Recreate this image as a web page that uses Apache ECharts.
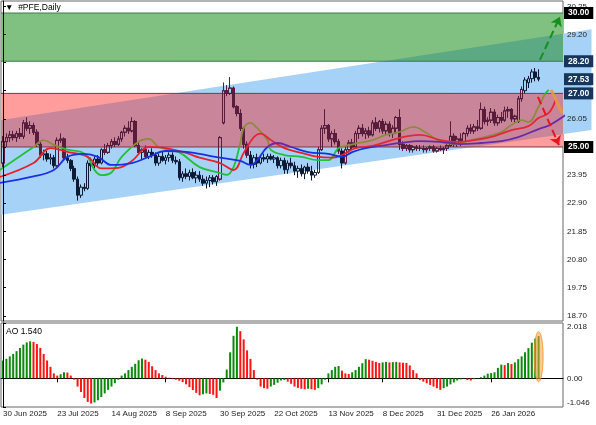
<!DOCTYPE html>
<html><head><meta charset="utf-8">
<script src="https://cdn.jsdelivr.net/npm/echarts@6/dist/echarts.min.js"></script>
<style>html,body{margin:0;padding:0;background:#fff}#c{width:596px;height:425px}</style>
</head><body><div id="c"></div>
<script>
// ---------- DATA ----------
const symbolTitle = '#PFE,Daily';
const tickBars = [0,16,32,48,64,80,96,112,128,144];
const tickLabels = ['30 Jun 2025','23 Jul 2025','14 Aug 2025','8 Sep 2025','30 Sep 2025','22 Oct 2025','13 Nov 2025','8 Dec 2025','31 Dec 2025','26 Jan 2026'];
const priceTicks = [18.70,19.75,20.80,21.85,22.90,23.95,25.00,26.05,27.10,28.15,29.20,30.25];
const aoTicks = [-1.046,0,2.018];

const candleOpen = [24.4,25.2,25.35,25.45,25.35,25.5,25.4,25.9,25.7,25.8,25.55,25.1,24.7,24.75,24.55,24.6,24.3,25.25,25.3,24.6,
24.5,24.2,23.8,23.2,23.5,23.45,24.4,24.3,24.55,24.4,24.9,24.8,25.05,25.2,25.1,25.3,25.55,25.7,25.6,25.95,
25.05,24.8,24.9,24.65,24.8,24.7,24.4,24.65,24.5,24.6,24.7,24.5,24.45,23.85,24.0,23.9,24.05,23.85,23.95,23.8,
23.65,23.75,23.85,23.7,23.8,25.9,27.1,27.0,27.2,26.5,26.25,25.7,25.1,24.7,24.35,24.6,24.4,24.6,24.55,24.65,
24.55,24.6,24.3,24.5,24.15,24.4,24.3,24.1,24.2,24.0,24.25,24.1,23.95,24.05,24.9,25.7,25.8,25.3,25.5,25.2,
24.85,24.4,24.9,25.15,25.0,25.5,25.7,25.5,25.6,25.45,25.9,25.7,25.95,25.6,25.85,25.5,25.7,26.1,25.1,24.95,
25.05,24.9,25.0,24.95,24.95,24.9,24.95,25.0,24.85,24.95,24.9,24.95,25.05,25.4,25.1,25.3,25.2,25.5,25.7,25.6,
25.75,25.7,26.4,25.95,26.0,26.3,25.9,26.1,26.0,26.35,26.4,26.05,25.95,26.8,27.1,27.4,27.55,27.8,27.6];
const candleHigh = [25.4,25.5,25.6,25.6,25.6,25.7,26.0,26.1,25.95,25.9,25.65,25.2,24.9,24.85,24.75,24.7,25.35,25.5,25.35,24.75,
24.55,24.3,23.9,23.6,23.65,24.5,24.6,24.65,24.7,24.95,25.1,25.15,25.3,25.35,25.4,25.6,25.8,25.95,26.1,26.0,
25.2,24.95,25.05,24.9,24.95,24.8,24.75,24.85,24.7,24.8,24.8,24.65,24.55,24.1,24.2,24.15,24.2,24.1,24.1,23.95,
23.9,23.95,23.95,23.95,25.4,27.4,27.3,27.6,27.25,26.55,26.4,25.75,25.2,24.85,24.7,24.75,24.7,24.75,24.75,24.75,
24.7,24.65,24.6,24.6,24.5,24.6,24.45,24.3,24.35,24.3,24.4,24.3,24.15,25.0,25.8,26.4,25.85,25.6,25.65,25.3,
24.95,25.0,25.25,25.3,25.6,25.8,25.85,25.7,25.75,26.0,26.1,26.0,26.05,25.95,25.95,25.8,26.15,26.4,25.2,25.1,
25.1,25.05,25.07,25.07,25.05,25.0,25.05,25.07,25.0,25.05,25.0,25.1,25.95,25.5,25.4,25.5,25.55,25.8,25.85,25.85,
26.0,26.65,26.5,26.1,26.45,26.4,26.2,26.3,26.5,26.5,26.45,26.2,26.9,27.25,27.6,27.65,27.9,27.95,27.9];
const candleLow = [24.2,25.0,25.2,25.25,25.2,25.3,25.3,25.6,25.5,25.45,25.0,24.6,24.5,24.45,24.35,24.2,24.25,25.15,24.5,24.4,
24.1,23.7,23.0,23.1,23.35,23.4,24.1,24.2,24.3,24.35,24.7,24.75,24.95,25.0,25.05,25.2,25.4,25.5,25.55,25.0,
24.7,24.55,24.6,24.55,24.6,24.3,24.3,24.45,24.35,24.45,24.4,24.35,23.75,23.7,23.8,23.75,23.8,23.65,23.7,23.55,
23.45,23.5,23.6,23.55,23.75,25.85,26.9,26.95,26.45,26.15,25.6,24.95,24.6,24.2,24.2,24.25,24.35,24.45,24.4,24.5,
24.4,24.2,24.2,24.0,24.0,24.2,23.95,23.85,23.9,23.8,24.0,23.75,23.85,24.0,24.85,25.5,25.2,25.0,25.1,24.75,
24.2,24.35,24.8,24.9,24.95,25.3,25.4,25.3,25.35,25.4,25.6,25.55,25.5,25.45,25.4,25.35,25.5,24.9,24.85,24.85,
24.8,24.8,24.85,24.85,24.8,24.8,24.85,24.8,24.8,24.85,24.75,24.85,25.0,25.0,25.0,25.05,25.15,25.4,25.5,25.5,
25.6,25.65,25.85,25.8,25.9,25.8,25.8,25.9,25.95,26.1,25.95,25.9,25.9,26.7,27.0,27.2,27.4,27.45,27.45];
const candleClose = [25.2,25.35,25.45,25.35,25.5,25.4,25.9,25.7,25.8,25.55,25.1,24.7,24.75,24.55,24.6,24.3,25.25,25.3,24.6,24.5,
24.2,23.8,23.2,23.5,23.45,24.4,24.3,24.55,24.4,24.9,24.8,25.05,25.2,25.1,25.3,25.55,25.7,25.6,25.95,25.05,
24.8,24.9,24.65,24.8,24.7,24.4,24.65,24.5,24.6,24.7,24.5,24.45,23.85,24.0,23.9,24.05,23.85,23.95,23.8,23.65,
23.75,23.85,23.7,23.9,25.35,27.1,27.0,27.2,26.5,26.25,25.7,25.1,24.7,24.35,24.6,24.4,24.6,24.55,24.65,24.55,
24.6,24.3,24.5,24.15,24.4,24.3,24.1,24.2,24.0,24.25,24.1,23.95,24.05,24.9,25.7,25.8,25.3,25.5,25.2,24.85,
24.4,24.9,25.15,25.0,25.5,25.7,25.5,25.6,25.45,25.9,25.7,25.95,25.6,25.85,25.5,25.7,26.1,25.1,24.95,25.05,
24.9,25.0,24.95,24.95,24.9,24.95,25.0,24.85,24.95,24.9,24.95,25.05,25.4,25.1,25.3,25.2,25.5,25.7,25.6,25.75,
25.7,26.4,25.95,26.0,26.3,25.9,26.1,26.0,26.35,26.4,26.05,26.15,26.8,27.15,27.5,27.55,27.8,27.6,27.53];

// Alligator lines: [bar, price]
const lipsLine = [[-1,24.14],[9,25.0],[12,25.26],[15,25.08],[19,24.9],[23,24.82],[25,24.63],[27,24.14],[29,23.95],[32,24.05],[35,24.63],[40,25.2],[43,25.3],[46,25.0],[52,24.8],[58,24.25],[64,24.03],[66,23.96],[68,24.25],[70,25.15],[71,25.7],[73,25.9],[75,25.7],[78,25.26],[79,24.89],[83,24.7],[88,24.63],[93,24.51],[96,24.51],[99,24.96],[102,25.07],[105,25.15],[109,25.26],[113,25.45],[117,25.56],[121,25.75],[125,25.52],[130,25.15],[134,25.11],[138,25.26],[142,25.37],[147,25.56],[150,25.82],[153,26.0],[155,25.93],[158,26.5],[160,27.0],[161,27.13]];
const teethLine = [[-1,23.88],[9,24.4],[14,24.96],[19,24.82],[25,24.63],[29,24.2],[34,24.22],[38,24.48],[43,25.0],[48,24.96],[54,24.78],[58,24.6],[64,24.4],[68,24.14],[71,24.78],[74,25.37],[76,25.5],[79,25.26],[83,24.96],[88,24.78],[93,24.63],[97,24.6],[100,24.7],[104,24.96],[109,25.04],[117,25.34],[123,25.45],[129,25.26],[134,25.19],[139,25.26],[145,25.41],[150,25.63],[155,25.78],[158,26.08],[161,26.27],[163,26.75]];
const jawLine = [[-1,23.66],[9,23.9],[15,24.14],[19,24.63],[24,24.74],[28,24.63],[32,24.33],[38,24.4],[43,24.63],[48,24.85],[54,24.82],[58,24.74],[64,24.6],[70,24.48],[73,24.33],[75,24.51],[78,25.0],[81,25.15],[85,25.0],[90,24.81],[96,24.74],[100,24.63],[103,24.81],[107,24.96],[113,25.07],[117,25.15],[123,25.22],[129,25.19],[135,25.11],[141,25.15],[147,25.22],[152,25.37],[158,25.67],[161,25.8],[166,26.2]];

const aoValues = [0.65,0.71,0.80,0.89,0.99,1.11,1.23,1.31,1.35,1.33,
1.25,1.11,0.89,0.65,0.42,0.18,0.10,0.15,0.22,0.21,
0.10,-0.05,-0.30,-0.50,-0.72,-0.86,-0.92,-0.88,-0.80,-0.68,
-0.55,-0.42,-0.30,-0.18,-0.05,0.10,0.18,0.30,0.42,0.53,
0.66,0.72,0.68,0.60,0.44,0.30,0.18,0.12,0.06,0.02,
-0.02,-0.05,-0.09,-0.14,-0.22,-0.32,-0.43,-0.53,-0.62,-0.58,
-0.55,-0.57,-0.60,-0.72,-0.45,-0.15,0.32,0.95,1.55,1.88,
1.72,1.42,1.02,0.71,0.30,-0.05,-0.30,-0.36,-0.38,-0.30,
-0.24,-0.16,-0.08,-0.06,-0.12,-0.20,-0.30,-0.35,-0.38,-0.40,
-0.38,-0.40,-0.42,-0.36,-0.22,-0.05,0.18,0.30,0.42,0.45,
0.28,0.18,0.16,0.22,0.30,0.42,0.55,0.70,0.68,0.64,
0.60,0.56,0.58,0.60,0.58,0.59,0.60,0.58,0.57,0.56,
0.47,0.30,0.18,-0.06,-0.12,-0.18,-0.24,-0.30,-0.36,-0.42,
-0.36,-0.30,-0.22,-0.15,-0.08,-0.04,-0.01,-0.06,-0.08,-0.03,
0.01,0.04,0.10,0.17,0.19,0.22,0.38,0.50,0.48,0.56,
0.52,0.58,0.70,0.80,0.95,1.10,1.30,1.45,1.54];

// drawn objects
const greenZone = [28.20, 30.00];
const pinkZone = [25.00, 27.00];
const channelUpper = [[-1, 26.00], [173.6, 29.39]];
const channelLower = [[-1, 22.46], [173.6, 25.63]];
const levelPrices = [30.00, 28.20, 27.53, 27.00, 25.00];
const upArrow = [[158.4, 28.25], [164.3, 29.86]];
const downArrow = [[157.8, 26.87], [164.0, 25.07]];
const orangeStroke = [[161.7, 27.13], [164.9, 26.27]];

// ---------- STYLE / LAYOUT ----------
const FONT = '"Liberation Sans", Arial, sans-serif';
const C_BLUE = '#a6d2f7', C_GREEN = '#80c080', C_GREEN_OV = '#5caa84', C_PINK = '#ff9c9c', C_PINK_OV = '#c9869b';
const levelBg = ['#000000', '#16365e', '#16365e', '#16365e', '#000000'];
const xMin = -0.59, xMax = 165.2;
const pMin = 18.507, pMax = 30.448;
const MAIN_TOP = 1, MAIN_H = 320;
const pricePx = p => MAIN_TOP + (pMax - p) / (pMax - pMin) * MAIN_H;

function lerpX(a,b,x){const t=(x-a[0])/(b[0]-a[0]);return [x,a[1]+t*(b[1]-a[1])];}
function lerpY(a,b,y){const t=(y-a[1])/(b[1]-a[1]);return [a[0]+t*(b[0]-a[0]),y];}
function clipPoly(pts, x0, x1, y0, y1) {
  const planes = [
    [p=>p[0]>=x0,(a,b)=>lerpX(a,b,x0)],[p=>p[0]<=x1,(a,b)=>lerpX(a,b,x1)],
    [p=>p[1]>=y0,(a,b)=>lerpY(a,b,y0)],[p=>p[1]<=y1,(a,b)=>lerpY(a,b,y1)]];
  let out = pts;
  for (const [inside, inter] of planes) {
    const inp = out; out = [];
    for (let i=0;i<inp.length;i++){
      const cur = inp[i], prev = inp[(i+inp.length-1)%inp.length];
      const ci = inside(cur), pi = inside(prev);
      if (ci) { if (!pi) out.push(inter(prev,cur)); out.push(cur); }
      else if (pi) out.push(inter(prev,cur));
    }
  }
  return out;
}

const candleData = candleOpen.map((o,i)=>[i, o, candleClose[i], candleLow[i], candleHigh[i]]);
const aoData = aoValues.map((v,i)=>[i,v]);
const aoColors = aoValues.map((v,i)=> (i===0 || v >= aoValues[i-1]) ? '#0b8a0b' : '#ff1414');
const labelStyle = {color:'#222', fontFamily: FONT, fontSize: 8};
const CANDLE_DARK = '#0d1a33', CANDLE_PINK = '#5a1c3a';

const bandTop = pricePx(pinkZone[1]), bandBot = pricePx(pinkZone[0]);

const chart = echarts.init(document.getElementById('c'));
chart.setOption({
  animation: false,
  backgroundColor: '#fff',
  grid: [
    {left: 1, right: 33, top: MAIN_TOP, height: MAIN_H, show: true, borderColor: '#666', borderWidth: 1, backgroundColor: 'transparent'},
    {left: 1, right: 33, top: 323, height: 84, show: true, borderColor: '#666', borderWidth: 1},
    {left: 1, right: 33, top: bandTop, height: bandBot - bandTop, show: false}
  ],
  xAxis: [
    {type:'value', gridIndex:0, min:xMin, max:xMax, show:false},
    {type:'value', gridIndex:1, min:xMin, max:xMax,
     axisLine:{show:true, lineStyle:{color:'#000'}}, splitLine:{show:false},
     axisTick:{show:true, customValues: tickBars, length:4, lineStyle:{color:'#000'}},
     axisLabel:{customValues: tickBars, align:'left', margin:3, ...labelStyle,
       formatter: v => tickLabels[tickBars.indexOf(Math.round(v))] || ''}},
    {type:'value', gridIndex:2, min:xMin, max:xMax, show:false}
  ],
  yAxis: [
    {type:'value', gridIndex:0, position:'right', min:pMin, max:pMax, z:8,
     axisLine:{show:true, lineStyle:{color:'#000'}}, splitLine:{show:false},
     axisTick:{show:true, customValues: priceTicks, length:3, lineStyle:{color:'#000'}},
     axisLabel:{customValues: priceTicks, margin:4, ...labelStyle, formatter: v => v.toFixed(2)}},
    {type:'value', gridIndex:1, position:'right', min:-1.046, max:2.018, z:8,
     axisLine:{show:true, lineStyle:{color:'#000'}}, splitLine:{show:false},
     axisTick:{show:true, customValues: aoTicks, length:3, lineStyle:{color:'#000'}},
     axisLabel:{customValues: aoTicks, margin:4, ...labelStyle,
       verticalAlignMaxLabel:'top', verticalAlignMinLabel:'bottom',
       formatter: v => Math.abs(v) < 1e-9 ? '0.00' : v.toFixed(3)}},
    {type:'value', gridIndex:2, min:pinkZone[0], max:pinkZone[1], show:false}
  ],
  visualMap: [
    {type:'piecewise', show:false, seriesIndex:2, dimension:1, pieces:[{gte:pinkZone[0], lte:pinkZone[1], color:'#8c8a3c'}], outOfRange:{color:'#22c03a'}},
    {type:'piecewise', show:false, seriesIndex:3, dimension:1, pieces:[{gte:pinkZone[0], lte:pinkZone[1], color:'#e0283a'}], outOfRange:{color:'#e8202a'}},
    {type:'piecewise', show:false, seriesIndex:4, dimension:1, pieces:[{gte:pinkZone[0], lte:pinkZone[1], color:'#6a2aa8'}], outOfRange:{color:'#1a30e0'}}
  ],
  series: [
    {type:'custom', xAxisIndex:0, yAxisIndex:0, z:1, clip:false, silent:true, data:[[0,25]],
     renderItem(params, api){
       const cs = params.coordSys;
       const L = cs.x, R = cs.x + cs.width, T = cs.y, B = cs.y + cs.height;
       const chan = [api.coord(channelUpper[0]), api.coord(channelUpper[1]), api.coord(channelLower[1]), api.coord(channelLower[0])];
       const gT = api.coord([0, greenZone[1]])[1], gB = api.coord([0, greenZone[0]])[1];
       const pT = api.coord([0, pinkZone[1]])[1], pB = api.coord([0, pinkZone[0]])[1];
       return {type:'group', children:[
         {type:'polygon', shape:{points: clipPoly(chan, L, 596, T, B)}, style:{fill:C_BLUE}},
         {type:'rect', shape:{x:L, y:gT, width:R-L, height:gB-gT}, style:{fill:C_GREEN}},
         {type:'rect', shape:{x:L, y:pT, width:R-L, height:pB-pT}, style:{fill:C_PINK}},
         {type:'polygon', shape:{points: clipPoly(chan, L, R, gT, gB)}, style:{fill:C_GREEN_OV}},
         {type:'polygon', shape:{points: clipPoly(chan, L, R, pT, pB)}, style:{fill:C_PINK_OV}},
         {type:'line', shape:{x1:L, y1:gT, x2:R, y2:gT}, style:{stroke:'#3f7a4f', lineWidth:1}},
         {type:'line', shape:{x1:L, y1:gB, x2:R, y2:gB}, style:{stroke:'#3f7a4f', lineWidth:1}},
         {type:'line', shape:{x1:L, y1:pT, x2:R, y2:pT}, style:{stroke:'#7a3a4a', lineWidth:1}},
         {type:'line', shape:{x1:L, y1:pB, x2:R, y2:pB}, style:{stroke:'#7a3a4a', lineWidth:1}}
       ]};
     }},
    {type:'candlestick', xAxisIndex:0, yAxisIndex:0, z:3, barWidth:3, data:candleData,
     encode:{x:0, y:[1,2,3,4]},
     itemStyle:{color:'rgba(0,0,0,0)', color0:CANDLE_DARK, borderColor:CANDLE_DARK, borderColor0:CANDLE_DARK, borderWidth:1},
     markLine:{silent:true, symbol:['none','none'], animation:false, z:10,
       data: levelPrices.map((p,k)=>({yAxis:p, lineStyle:{color:'rgba(0,0,0,0)', width:1},
         label:{show:true, position:'end', distance:1, formatter: p.toFixed(2), color:'#fff', fontFamily:FONT, fontSize:8.5, fontWeight:'bold',
                backgroundColor: levelBg[k], padding:[2,4,1,4]}}))
       .concat([
         [{coord:upArrow[0], symbol:'none'},{coord:upArrow[1], symbol:'arrow', symbolSize:9, lineStyle:{color:'#14901e', type:'dashed', width:2}, label:{show:false}}],
         [{coord:downArrow[0], symbol:'none'},{coord:downArrow[1], symbol:'arrow', symbolSize:9, lineStyle:{color:'#e8141e', type:'dashed', width:2}, label:{show:false}}]
       ])}},
    {type:'line', xAxisIndex:0, yAxisIndex:0, z:4, data:lipsLine, smooth:0.4, showSymbol:false, lineStyle:{width:1.8}},
    {type:'line', xAxisIndex:0, yAxisIndex:0, z:4, data:teethLine, smooth:0.4, showSymbol:false, lineStyle:{width:1.8}},
    {type:'line', xAxisIndex:0, yAxisIndex:0, z:4, data:jawLine, smooth:0.4, showSymbol:false, lineStyle:{width:1.8}},
    {type:'line', xAxisIndex:0, yAxisIndex:0, z:5, data:orangeStroke, showSymbol:false, lineStyle:{width:3, color:'rgba(240,150,60,0.9)'}},
    {type:'bar', xAxisIndex:1, yAxisIndex:1, z:3, barWidth:2, data:aoData,
     itemStyle:{color: p => aoColors[p.dataIndex]}},
    {type:'custom', xAxisIndex:1, yAxisIndex:1, z:6, clip:false, silent:true, data:[[aoValues.length-1, aoValues[aoValues.length-1]]],
     renderItem(params, api){
       const top = api.coord([api.value(0), api.value(1) + 0.16]);
       const bot = api.coord([api.value(0), -0.12]);
       return {type:'ellipse', shape:{cx: top[0], cy:(top[1]+bot[1])/2, rx:4.5, ry:(bot[1]-top[1])/2},
               style:{fill:'rgba(245,160,60,0.55)', stroke:'rgba(240,140,40,0.8)', lineWidth:1}};
     }},
    // the same candles, tinted where they cross the pink zone
    {type:'candlestick', xAxisIndex:2, yAxisIndex:2, z:3, barWidth:3, data:candleData, clip:true,
     encode:{x:0, y:[1,2,3,4]},
     itemStyle:{color:'rgba(0,0,0,0)', color0:CANDLE_PINK, borderColor:CANDLE_PINK, borderColor0:CANDLE_PINK, borderWidth:1}}
  ],
  graphic: [
    {type:'text', left:5, top:3, z:20, style:{text:'▼  ' + symbolTitle, fill:'#000', font:'8.5px ' + FONT}},
    {type:'text', left:6, top:327, z:20, style:{text:'AO ' + aoValues[aoValues.length-1].toFixed(3), fill:'#000', font:'8.5px ' + FONT}}
  ]
});
</script>
</body></html>
